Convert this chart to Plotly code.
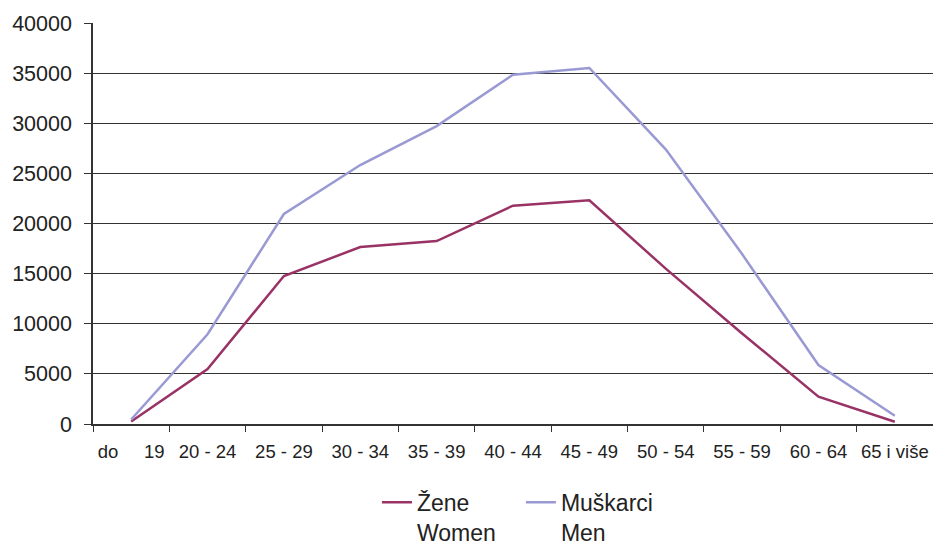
import plotly.graph_objects as go

# age groups (x categories)
age_groups = ["do 19", "20 - 24", "25 - 29", "30 - 34", "35 - 39", "40 - 44",
              "45 - 49", "50 - 54", "55 - 59", "60 - 64", "65 i više"]

# values
zene = [250, 5490, 14760, 17650, 18250, 21780, 22310, 15500, 9030, 2720, 230]
muskarci = [450, 8950, 20950, 25830, 29720, 34850, 35510, 27400, 16950, 5880, 830]

y_ticks = [0, 5000, 10000, 15000, 20000, 25000, 30000, 35000, 40000]

# "do 19" is spread out in the original
tick_labels = [a.replace(" ", "\u00a0" * 5) if a == "do 19" else a for a in age_groups]

FONT = "Liberation Sans, Arial, sans-serif"

fig = go.Figure()

fig.add_trace(go.Scatter(
    x=age_groups, y=zene, mode="lines",
    name="Žene<br>Women",
    line=dict(color="#993366", width=2.5),
))
fig.add_trace(go.Scatter(
    x=age_groups, y=muskarci, mode="lines",
    name="Muškarci<br>Men",
    line=dict(color="#9999d4", width=2.5),
))

fig.update_layout(
    width=933, height=543,
    margin=dict(l=93, r=0, t=23, b=119, autoexpand=False),
    paper_bgcolor="white",
    plot_bgcolor="white",
    font=dict(family=FONT, color="#222222"),
    showlegend=True,
    legend=dict(
        orientation="h",
        x=0.338, xanchor="left",
        y=-0.1415, yanchor="top",
        font=dict(size=23, color="#222222"),
        valign="top",
        entrywidth=99,
        bgcolor="rgba(0,0,0,0)",
    ),
    xaxis=dict(
        type="category",
        categoryorder="array", categoryarray=age_groups,
        tickvals=age_groups, ticktext=tick_labels,
        range=[-0.5, 10.5],
        tickson="boundaries",
        tickangle=0,
        automargin=False,
        ticks="outside", ticklen=6, tickcolor="#333333",
        showgrid=False,
        showline=True, linecolor="#333333", linewidth=1.5,
        tickfont=dict(size=18.5, color="#222222"),
        zeroline=False,
        ticklabelstandoff=10,
    ),
    yaxis=dict(
        range=[0, 40000],
        tickvals=y_ticks,
        ticktext=[str(v) for v in y_ticks],
        automargin=False,
        ticks="outside", ticklen=7, tickcolor="#333333",
        showgrid=True, gridcolor="#333333", gridwidth=1,
        showline=True, linecolor="#333333", linewidth=1.5,
        tickfont=dict(size=21.5, color="#222222"),
        zeroline=False,
        ticklabelstandoff=8,
    ),
)

# drop the browser's default 8px body margin so the figure fills the window
fig.write_html("out.html",
               config={"displayModeBar": False},
               post_script="document.body.style.margin = '0';")
